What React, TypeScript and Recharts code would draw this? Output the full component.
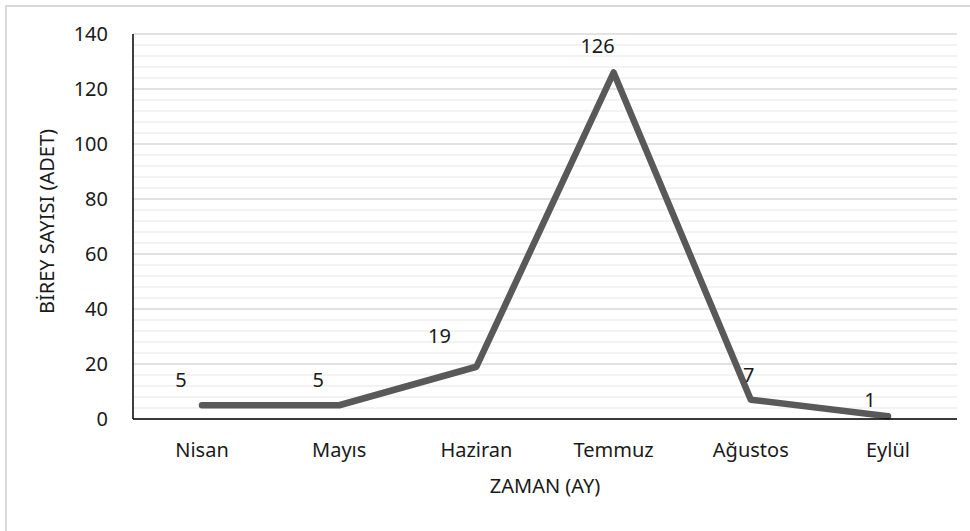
import React from "react"
import {
  LineChart,
  Line,
  XAxis,
  YAxis,
  CartesianGrid,
  ReferenceLine,
  LabelList,
} from "recharts"

const months = ["Nisan", "Mayıs", "Haziran", "Temmuz", "Ağustos", "Eylül"]
const counts = [5, 5, 19, 126, 7, 1]
const yTicks = [0, 20, 40, 60, 80, 100, 120, 140]
const minorTicks = [
  4, 8, 12, 16, 24, 28, 32, 36, 44, 48, 52, 56, 64, 68, 72, 76, 84, 88, 92, 96,
  104, 108, 112, 116, 124, 128, 132, 136,
]

const data = months.map((month, i) => ({ month, count: counts[i] }))

// data labels in the original were nudged by hand, so keep per-point shifts
const labelShift: Array<[number, number]> = [
  [-21, -18],
  [-21, -18],
  [-37, -24],
  [-16, -20],
  [-2, -18],
  [-18, -9],
]

const FONT = "'Noto Sans', 'Open Sans', sans-serif"
const TEXT = "#1a1a1a"

function PointLabel(props: any) {
  const { x, y, value, index } = props
  const [dx, dy] = labelShift[index] ?? [0, -18]
  return (
    <text
      x={x + dx}
      y={y + dy}
      textAnchor="middle"
      fontSize={20}
      fontFamily={FONT}
      fill={TEXT}
    >
      {value}
    </text>
  )
}

function YTitle(props: any) {
  const { viewBox } = props
  const cy = viewBox.y + viewBox.height / 2 - 5
  return (
    <text
      x={46}
      y={cy}
      transform={`rotate(-90, 46, ${cy})`}
      textAnchor="middle"
      dominantBaseline="central"
      fontSize={20}
      fontFamily={FONT}
      fill={TEXT}
    >
      BİREY SAYISI (ADET)
    </text>
  )
}

export default function App() {
  return (
    <div style={{ position: "relative", width: 970, height: 531, background: "#fff" }}>
      <style>{"body{margin:0}"}</style>
      <div
        style={{
          position: "absolute",
          left: 5,
          top: 5,
          right: 0,
          bottom: 0,
          borderTop: "2px solid #d9d9d9",
          borderLeft: "2px solid #d9d9d9",
        }}
      />
      <LineChart
        width={970}
        height={531}
        data={data}
        margin={{ top: 34, right: 13, bottom: 0, left: 0 }}
        style={{ position: "absolute", left: 0, top: 0 }}
      >
        {minorTicks.map((v) => (
          <ReferenceLine
            key={v}
            y={v}
            stroke="#efefef"
            strokeWidth={1.5}
            ifOverflow="extendDomain"
          />
        ))}
        <CartesianGrid vertical={false} stroke="#d9d9d9" strokeWidth={1.5} />
        <XAxis
          dataKey="month"
          height={112}
          padding={{ left: 69, right: 69 }}
          tickSize={0}
          tickMargin={24}
          axisLine={{ stroke: "#000", strokeWidth: 1.5 }}
          tick={{ fontSize: 20, fontFamily: FONT, fill: TEXT }}
          label={{
            value: "ZAMAN (AY)",
            position: "insideBottom",
            offset: 38,
            fontSize: 20,
            fontFamily: FONT,
            fill: TEXT,
          }}
        />
        <YAxis
          width={133}
          domain={[0, 140]}
          ticks={yTicks}
          interval={0}
          tickSize={0}
          tickMargin={25}
          axisLine={{ stroke: "#000", strokeWidth: 1.5 }}
          tick={{ fontSize: 20, fontFamily: FONT, fill: TEXT }}
          label={<YTitle />}
        />
        <Line
          type="linear"
          dataKey="count"
          stroke="#595959"
          strokeWidth={6.5}
          strokeLinecap="round"
          strokeLinejoin="round"
          dot={false}
          activeDot={false}
          isAnimationActive={false}
        >
          <LabelList dataKey="count" content={<PointLabel />} />
        </Line>
      </LineChart>
    </div>
  )
}
